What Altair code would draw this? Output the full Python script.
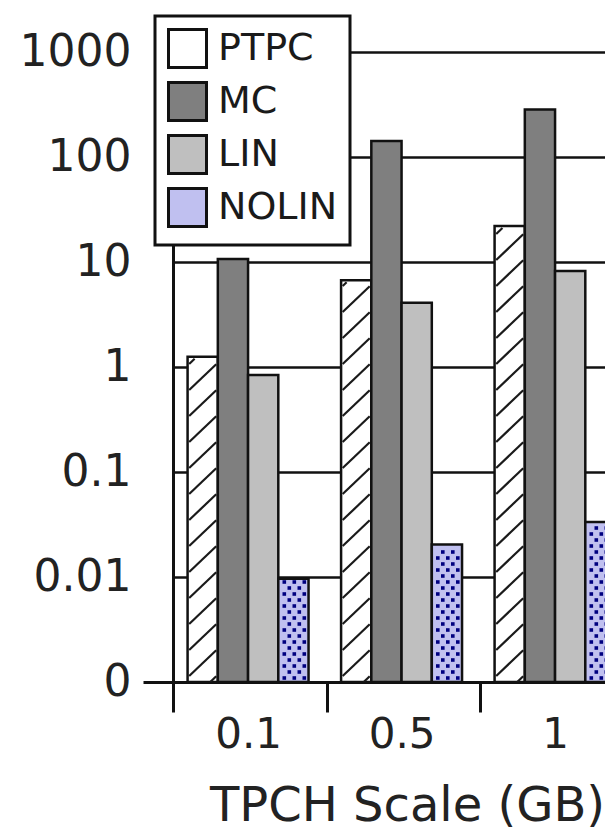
import json
import numpy as np
import pandas as pd
import altair as alt

# ---------------- data ----------------
groups = ["0.1", "0.5", "1"]
series = ["PTPC", "MC", "LIN", "NOLIN"]
ptpc = [1.25, 6.7, 22.0]
mc = [10.7, 142.0, 283.0]
lin = [0.84, 4.1, 8.2]
nolin = [0.0096, 0.0204, 0.0334]
y_tick_values = [0.001, 0.01, 0.1, 1, 10, 100, 1000]
y_tick_labels = ["0", "0.01", "0.1", "1", "10", "100", "1000"]
x_title = "TPCH Scale (GB)"

# ---------------- styles / layout ----------------
colors = ["#ffffff", "#7f7f7f", "#bfbfbf", "#c0c0f0"]
FONT = "DejaVu Sans"
INK = "#111111"
PLOT_W = 432
PLOT_H = 630
UNIT_PX = 153.5          # pixels per group slot
BAR_W = 0.197            # bar width in group units
GROUP_OFF = 0.095        # offset of first bar inside a slot
Y_MIN, Y_MAX = y_tick_values[0], y_tick_values[-1]
LOG_MIN = np.log10(Y_MIN)
DEC_PX = PLOT_H / (np.log10(Y_MAX) - LOG_MIN)

values = {"PTPC": ptpc, "MC": mc, "LIN": lin, "NOLIN": nolin}

rows = []
for gi, g in enumerate(groups):
    for si, s in enumerate(series):
        left = gi + GROUP_OFF + si * BAR_W
        rows.append(dict(group=g, series=s, xa=left, xb=left + BAR_W,
                         ya=values[s][gi], yb=Y_MIN))
bars = pd.DataFrame(rows)

# diagonal hatching inside the PTPC bars
hatch = []
inset = 1.6 / UNIT_PX
w_px = BAR_W * UNIT_PX
rise = 0.85 * w_px / DEC_PX
sp = 26.0 / DEC_PX
for gi in range(len(groups)):
    left = gi + GROUP_OFF + inset
    width = BAR_W - 2 * inset
    top = np.log10(ptpc[gi]) - 2.0 / DEC_PX
    k = -1
    while True:
        y0 = LOG_MIN + 6.0 / DEC_PX + k * sp
        y1 = y0 + rise
        if y0 >= top:
            break
        if y1 > LOG_MIN:
            t0 = max(0.0, (LOG_MIN - y0) / rise)
            t1 = min(1.0, (top - y0) / rise)
            hatch.append(dict(xa=left + width * t0, xb=left + width * t1,
                              ya=10 ** (y0 + t0 * rise), yb=10 ** (y0 + t1 * rise)))
        k += 1
hatch_df = pd.DataFrame(hatch)

# dotted lattice inside the NOLIN bars
dots = []
for gi in range(len(groups)):
    left = gi + GROUP_OFF + 3 * BAR_W
    h_px = (np.log10(nolin[gi]) - LOG_MIN) * DEC_PX
    r = 0
    while True:
        ypx = 4 + r * 6
        if ypx > h_px - 3:
            break
        offs = [6, 16, 26] if r % 2 == 0 else [11, 21]
        for o in offs:
            dots.append(dict(xa=left + o / UNIT_PX, ya=10 ** (LOG_MIN + ypx / DEC_PX)))
        r += 1
dots_df = pd.DataFrame(dots)

# ---------------- scales / axes ----------------
xscale = alt.Scale(domain=[0, PLOT_W / UNIT_PX], nice=False, zero=False)
yscale = alt.Scale(type="log", domain=[Y_MIN, Y_MAX], nice=False)

x_axis = alt.Axis(
    values=list(range(len(groups))),
    labelExpr=f"{json.dumps(groups)}[datum.value]",
    labelOffset=(GROUP_OFF + 2 * BAR_W) * UNIT_PX,
    grid=False,
    tickSize=30, tickWidth=3, tickColor=INK,
    domainWidth=3, domainColor=INK,
    labelFont=FONT, labelFontSize=42, labelColor="#222222", labelPadding=2,
    labelFlush=False, labelOverlap=False,
    title=x_title, titleFont=FONT, titleFontSize=48, titleFontWeight="normal",
    titleColor="#222222", titlePadding=27, titleX=234, titleAlign="center",
)
y_axis = alt.Axis(
    values=y_tick_values,
    labelExpr=f"{json.dumps(y_tick_labels)}[round(log(datum.value)/LN10) - ({int(round(LOG_MIN))})]",
    grid=True, gridColor=INK, gridWidth=2.5,
    tickSize=30, tickWidth=3,
    tickColor={"condition": {"test": f"datum.value < {Y_MIN * 1.5}", "value": INK},
               "value": "transparent"},
    domainWidth=3, domainColor=INK,
    labelFont=FONT, labelFontSize=44, labelColor="#222222", labelPadding=12,
    minExtent=165, maxExtent=165,
    title=None,
)

legend = alt.Legend(
    orient="none", legendX=-18, legendY=-36, title=None,
    fillColor="white", strokeColor=INK, padding=12,
    labelFont=FONT, labelFontSize=38, labelColor="#1a1a1a", labelOffset=10,
    symbolType="square", symbolSize=1444, symbolStrokeColor=INK,
    symbolStrokeWidth=3, symbolOpacity=1, rowPadding=2,
)

X = alt.X("xa:Q", scale=xscale, axis=x_axis)
Y = alt.Y("ya:Q", scale=yscale, axis=y_axis)

bar_layer = alt.Chart(bars).mark_rect(stroke=INK, strokeWidth=2.5, clip=True).encode(
    x=X, x2=alt.X2("xb:Q"), y=Y, y2=alt.Y2("yb:Q"),
    color=alt.Color("series:N", scale=alt.Scale(domain=series, range=colors), legend=legend),
)
hatch_layer = alt.Chart(hatch_df).mark_rule(color="#1a1a1a", strokeWidth=2.2, clip=True).encode(
    x=X, x2=alt.X2("xb:Q"), y=Y, y2=alt.Y2("yb:Q"),
)
dot_layer = alt.Chart(dots_df).mark_square(color="#000080", size=13, opacity=1, clip=True).encode(
    x=X, y=Y,
)

chart = (
    alt.layer(bar_layer, hatch_layer, dot_layer)
    .properties(width=PLOT_W, height=PLOT_H,
                padding={"left": 0, "top": 6, "right": 0, "bottom": 0},
                background="white")
    .configure_view(stroke=None)
    .configure_legend(strokeWidth=3)
)

chart.save("out.html", embed_options={"renderer": "svg", "actions": False})
